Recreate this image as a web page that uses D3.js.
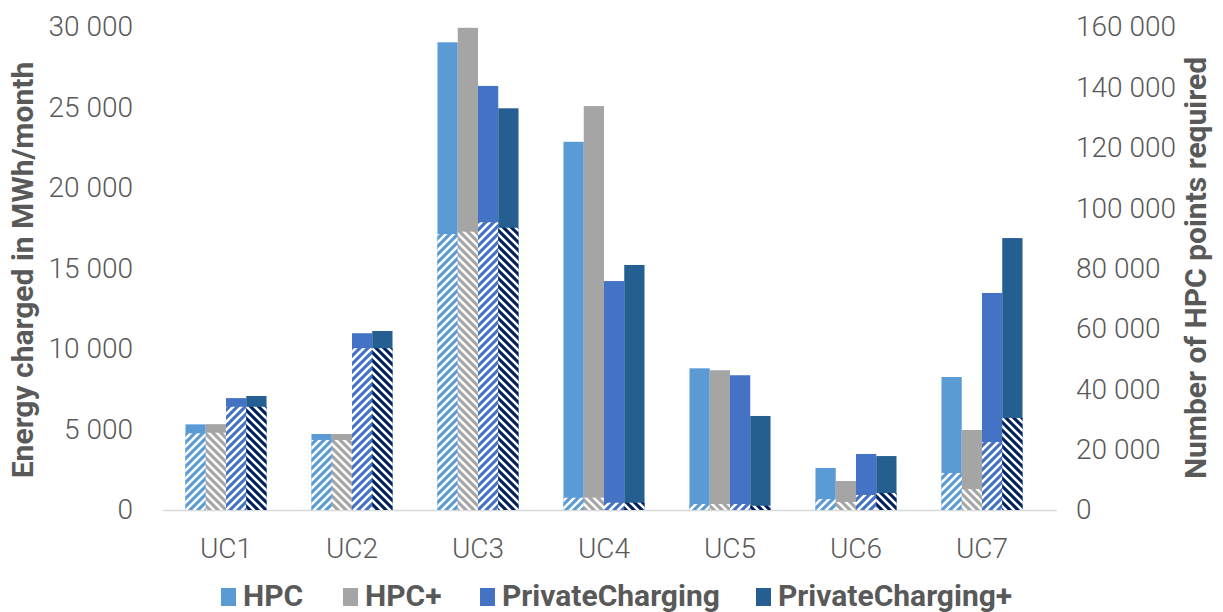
<!DOCTYPE html>
<html>
<head>
<meta charset="utf-8">
<script src="https://cdn.jsdelivr.net/npm/d3@7"></script>
<style>
  html, body { margin: 0; padding: 0; background: #ffffff; }
  svg { display: block; font-family: Roboto, "Noto Sans", sans-serif; }
</style>
</head>
<body>
<svg id="chart" width="1223" height="612"></svg>
<script>
// Use cases on the category axis
const categories = ["UC1", "UC2", "UC3", "UC4", "UC5", "UC6", "UC7"];
const seriesNames = ["HPC", "HPC+", "PrivateCharging", "PrivateCharging+"];

// Energy charged in MWh/month (left axis, solid bars)
const energyHPC      = [5320, 4720, 29050, 22870, 8800, 2610, 8260];
const energyHPCplus  = [5330, 4720, 29950, 25090, 8680, 1800, 4970];
const energyPC       = [6950, 10980, 26340, 14220, 8370, 3480, 13480];
const energyPCplus   = [7080, 11120, 24950, 15220, 5840, 3350, 16890];

// Number of HPC points required (right axis, hatched bars)
const pointsHPC      = [25400, 23200, 91400, 4070, 1990, 3640, 12260];
const pointsHPCplus  = [25600, 23200, 92200, 4070, 1990, 2650, 6960];
const pointsPC       = [34200, 53600, 95300, 2420, 1990, 4970, 22500];
const pointsPCplus   = [34200, 53600, 93500, 2420, 1420, 5630, 30500];

// Tick values of both axes
const leftTicks  = [0, 5000, 10000, 15000, 20000, 25000, 30000];
const rightTicks = [0, 20000, 40000, 60000, 80000, 100000, 120000, 140000, 160000];

const solidColors = ["#5B9BD5", "#A5A5A5", "#4472C4", "#255E91"];
const hatchColors = ["#5B9BD5", "#A5A5A5", "#4472C4", "#002060"];
const hatchDir    = ["up", "down", "up", "down"];

const energyBySeries = [energyHPC, energyHPCplus, energyPC, energyPCplus];
const pointsBySeries = [pointsHPC, pointsHPCplus, pointsPC, pointsPCplus];

const svg = d3.select("#chart");
const textColor = "#595959";
const fmt = v => d3.format(",")(v).replace(/,/g, " ");

const plot = { left: 163, right: 1045, top: 27, bottom: 510 };

const x0 = d3.scaleBand().domain(categories).range([plot.left, plot.right])
  .paddingInner(0.357).paddingOuter(0.1785);
const x1 = d3.scaleBand().domain(seriesNames).range([0, x0.bandwidth()]).padding(0);
const yLeft  = d3.scaleLinear().domain([0, 30000]).range([plot.bottom, plot.top]);
const yRight = d3.scaleLinear().domain([0, 160000]).range([plot.bottom, plot.top]);

// Hatch patterns: white diagonal stripes over the series colour
const defs = svg.append("defs");
hatchColors.forEach((c, i) => {
  const p = defs.append("pattern")
    .attr("id", "hatch" + i)
    .attr("patternUnits", "userSpaceOnUse")
    .attr("width", 8).attr("height", 8);
  p.append("rect").attr("width", 8).attr("height", 8).attr("fill", c);
  const d = hatchDir[i] === "up"
    ? "M-2,2 L2,-2 M0,8 L8,0 M6,10 L10,6"
    : "M-2,6 L2,10 M0,0 L8,8 M6,-2 L10,2";
  p.append("path").attr("d", d).attr("stroke", "#ffffff").attr("stroke-width", 2.6);
});

// Baseline
svg.append("line")
  .attr("x1", plot.left).attr("x2", plot.right + 12)
  .attr("y1", plot.bottom + 0.5).attr("y2", plot.bottom + 0.5)
  .attr("stroke", "#D9D9D9").attr("stroke-width", 1.5);

// Solid bars (energy)
seriesNames.forEach((s, si) => {
  svg.append("g").selectAll("rect")
    .data(categories.map((c, ci) => ({ c, v: energyBySeries[si][ci] })))
    .join("rect")
    .attr("x", d => x0(d.c) + x1(s))
    .attr("width", x1.bandwidth())
    .attr("y", d => yLeft(d.v))
    .attr("height", d => yLeft(0) - yLeft(d.v))
    .attr("fill", solidColors[si]);
});

// Hatched bars (HPC points), drawn on top
seriesNames.forEach((s, si) => {
  svg.append("g").selectAll("rect")
    .data(categories.map((c, ci) => ({ c, v: pointsBySeries[si][ci] })))
    .join("rect")
    .attr("x", d => x0(d.c) + x1(s))
    .attr("width", x1.bandwidth())
    .attr("y", d => yRight(d.v))
    .attr("height", d => yRight(0) - yRight(d.v))
    .attr("fill", `url(#hatch${si})`);
});

// Left axis
const leftAxis = svg.append("g").attr("transform", "translate(133,0)")
  .call(d3.axisLeft(yLeft).tickValues(leftTicks).tickFormat(fmt).tickSize(0).tickPadding(0));
leftAxis.select(".domain").remove();
leftAxis.selectAll("text")
  .attr("fill", textColor).attr("font-size", 28).attr("font-weight", 300)
  .attr("font-family", "Roboto");

// Right axis
const rightAxis = svg.append("g").attr("transform", "translate(1076,0)")
  .call(d3.axisRight(yRight).tickValues(rightTicks).tickFormat(fmt).tickSize(0).tickPadding(0));
rightAxis.select(".domain").remove();
rightAxis.selectAll("text")
  .attr("fill", textColor).attr("font-size", 28).attr("font-weight", 300)
  .attr("font-family", "Roboto");

// Category axis
const xAxis = svg.append("g").attr("transform", `translate(0,${plot.bottom})`)
  .call(d3.axisBottom(x0).tickSize(0).tickPadding(28));
xAxis.select(".domain").remove();
xAxis.selectAll("text")
  .attr("fill", textColor).attr("font-size", 28).attr("font-weight", 300)
  .attr("font-family", "Roboto");

// Axis titles
svg.append("text")
  .attr("transform", "translate(33,270) rotate(-90)")
  .attr("text-anchor", "middle")
  .attr("fill", textColor).attr("font-size", 30).attr("font-weight", 700)
  .text("Energy charged in MWh/month");

svg.append("text")
  .attr("transform", "translate(1206,268) rotate(-90)")
  .attr("text-anchor", "middle")
  .attr("fill", textColor).attr("font-size", 30).attr("font-weight", 700)
  .text("Number of HPC points required");

// Legend
const legendX = [221, 343, 480, 756];
const legend = svg.append("g");
seriesNames.forEach((s, i) => {
  legend.append("rect")
    .attr("x", legendX[i]).attr("y", 588)
    .attr("width", 15).attr("height", 18)
    .attr("fill", solidColors[i]);
  legend.append("text")
    .attr("x", legendX[i] + 22).attr("y", 606)
    .attr("fill", textColor).attr("font-size", 30).attr("font-weight", 700)
    .text(s);
});
</script>
</body>
</html>
